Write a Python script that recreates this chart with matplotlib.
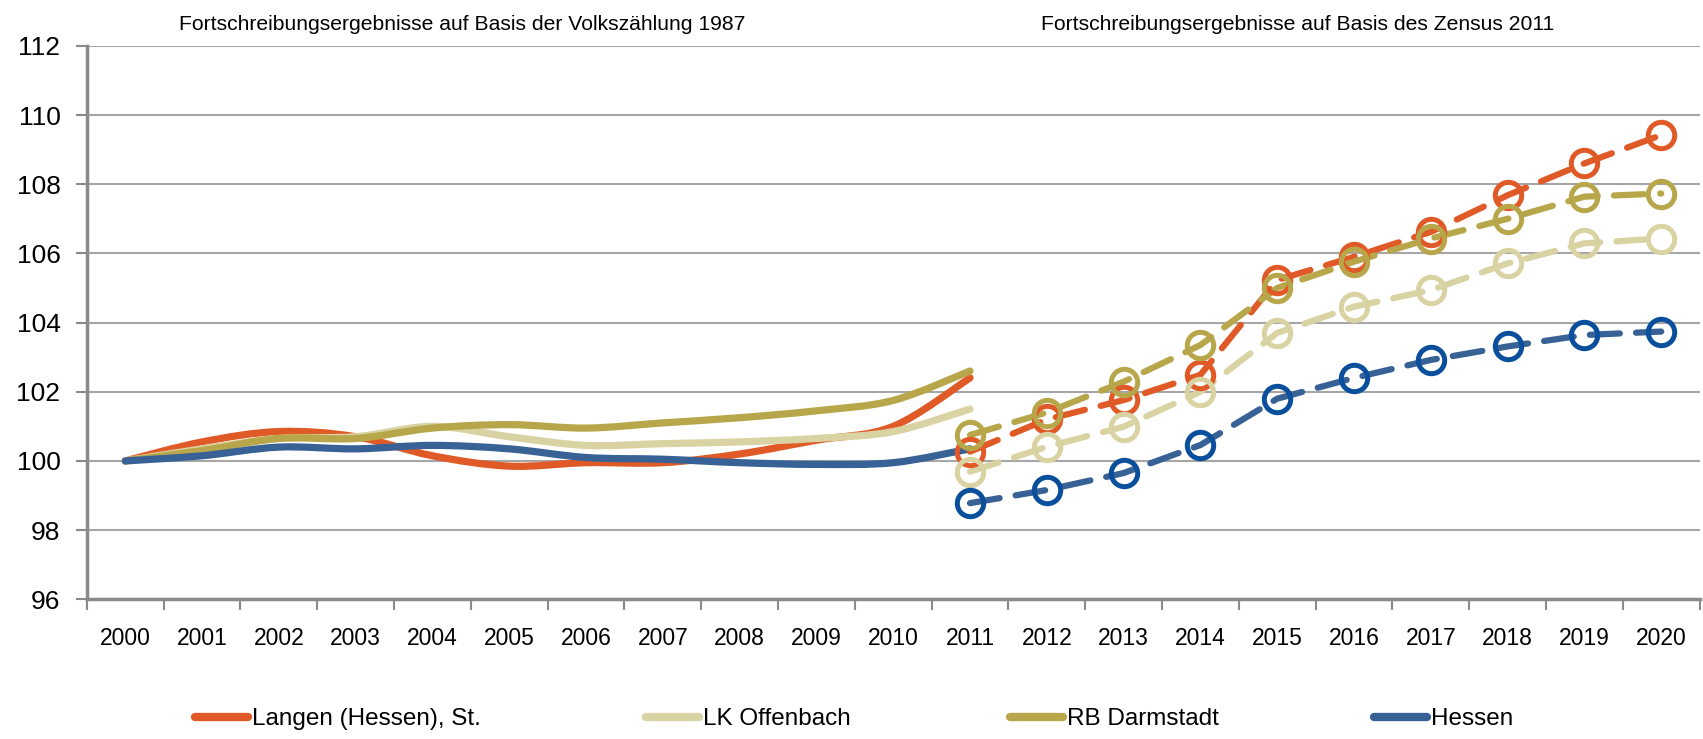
import numpy as np
import matplotlib
matplotlib.use("Agg")
import matplotlib.pyplot as plt
from matplotlib.path import Path
from matplotlib.patches import PathPatch
from matplotlib.lines import Line2D

plt.rcParams['font.family'] = ['Liberation Sans', 'DejaVu Sans']

years = [str(y) for y in range(2000, 2021)]
names = ["Langen (Hessen), St.", "LK Offenbach", "RB Darmstadt", "Hessen"]
colors = ["#E05A27", "#D9D2A2", "#B7A74A", "#386296"]
marker_colors = ["#E05A27", "#D9D2A2", "#B7A74A", "#0A4F9C"]

# Volkszaehlung 1987 basis, 2000-2011
old_langen = [100, 100.55, 100.85, 100.7, 100.15, 99.85, 99.95, 99.95, 100.2, 100.6, 101.0, 102.4]
old_offenbach = [100, 100.35, 100.65, 100.7, 101.0, 100.7, 100.45, 100.5, 100.55, 100.65, 100.85, 101.5]
old_darmstadt = [100, 100.3, 100.65, 100.65, 100.95, 101.05, 100.95, 101.1, 101.25, 101.45, 101.75, 102.6]
old_hessen = [100, 100.15, 100.4, 100.35, 100.45, 100.35, 100.1, 100.05, 99.95, 99.9, 99.95, 100.35]

# Zensus 2011 basis, 2011-2020
new_langen = [100.27, 101.2, 101.76, 102.49, 105.23, 105.9, 106.62, 107.68, 108.6, 109.42]
new_offenbach = [99.69, 100.41, 100.99, 102.0, 103.7, 104.46, 104.94, 105.71, 106.29, 106.43]
new_darmstadt = [100.75, 101.4, 102.29, 103.35, 105.0, 105.76, 106.43, 107.0, 107.64, 107.73]
new_hessen = [98.78, 99.16, 99.65, 100.46, 101.8, 102.4, 102.92, 103.31, 103.64, 103.74]

old_series = [old_langen, old_offenbach, old_darmstadt, old_hessen]
new_series = [new_langen, new_offenbach, new_darmstadt, new_hessen]

# left edge of each legend entry (figure pixels)
legend_x = [195, 646, 1010, 1374]


def smooth_path(xs, ys):
    # Catmull-Rom style bezier, like the "smoothed line" option in spreadsheets
    pts = np.column_stack([xs, ys]).astype(float)
    n = len(pts)
    verts = [pts[0]]
    codes = [Path.MOVETO]
    for i in range(n - 1):
        p0 = pts[max(i - 1, 0)]
        p1 = pts[i]
        p2 = pts[i + 1]
        p3 = pts[min(i + 2, n - 1)]
        c1 = p1 + (p2 - p0) / 6.0
        c2 = p2 - (p3 - p1) / 6.0
        verts += [c1, c2, p2]
        codes += [Path.CURVE4] * 3
    return Path(verts, codes)


fig = plt.figure(figsize=(17.03, 7.39), dpi=100)
ax = fig.add_axes([0.051, 0.189, 0.947, 0.749])

x_old = np.arange(0, 12)
x_new = np.arange(11, 21)

for s, c in zip(old_series, colors):
    patch = PathPatch(smooth_path(x_old, s), facecolor='none', edgecolor=c,
                      lw=5.2, capstyle='round', joinstyle='round', zorder=3)
    ax.add_patch(patch)

for s, c in zip(new_series, colors):
    ax.plot(x_new, s, color=c, lw=4.5, ls=(0, (4.8, 2.6)), dash_capstyle='round', zorder=4)
for s, mc in zip(new_series, marker_colors):
    ax.plot(x_new, s, ls='none', marker='o', ms=19, mfc='none', mec=mc, mew=3.6, zorder=5)

ax.set_xlim(-0.5, 20.5)
ax.set_ylim(96, 112)
ax.set_yticks(range(96, 113, 2))
ax.set_xticks(np.arange(-0.5, 21, 1))
ax.set_xticklabels([])
ax.set_xticks(np.arange(21), minor=True)
ax.set_xticklabels(years, minor=True)
ax.tick_params(axis='x', which='major', length=8, width=1.5, color='#8a8a8a', direction='out')
ax.tick_params(axis='x', which='minor', length=0, pad=20, labelsize=16.5)
ax.tick_params(axis='y', length=8, width=1.5, color='#8a8a8a', pad=11, labelsize=19)

ax.grid(axis='y', color='#a6a6a6', lw=1.5, zorder=0)
ax.set_axisbelow(True)
for side in ['top', 'right']:
    ax.spines[side].set_visible(False)
for side in ['left', 'bottom']:
    ax.spines[side].set_color('#8a8a8a')
    ax.spines[side].set_linewidth(2.5)

fig.text(462 / 1703, 1 - 24 / 739, "Fortschreibungsergebnisse auf Basis der Volkszählung 1987",
         ha='center', va='center', fontsize=15.2)
fig.text(1298 / 1703, 1 - 24 / 739, "Fortschreibungsergebnisse auf Basis des Zensus 2011",
         ha='center', va='center', fontsize=15.2)

for name, c, lx in zip(names, colors, legend_x):
    h = Line2D([0], [0], color=c, lw=6, solid_capstyle='round')
    fig.legend([h], [name], loc='center left', bbox_to_anchor=(lx / 1703, 1 - 719 / 739),
               frameon=False, fontsize=17.5, handlelength=2.2, handletextpad=0.15,
               borderpad=0, borderaxespad=0)

fig.savefig("out.png", dpi=100)
